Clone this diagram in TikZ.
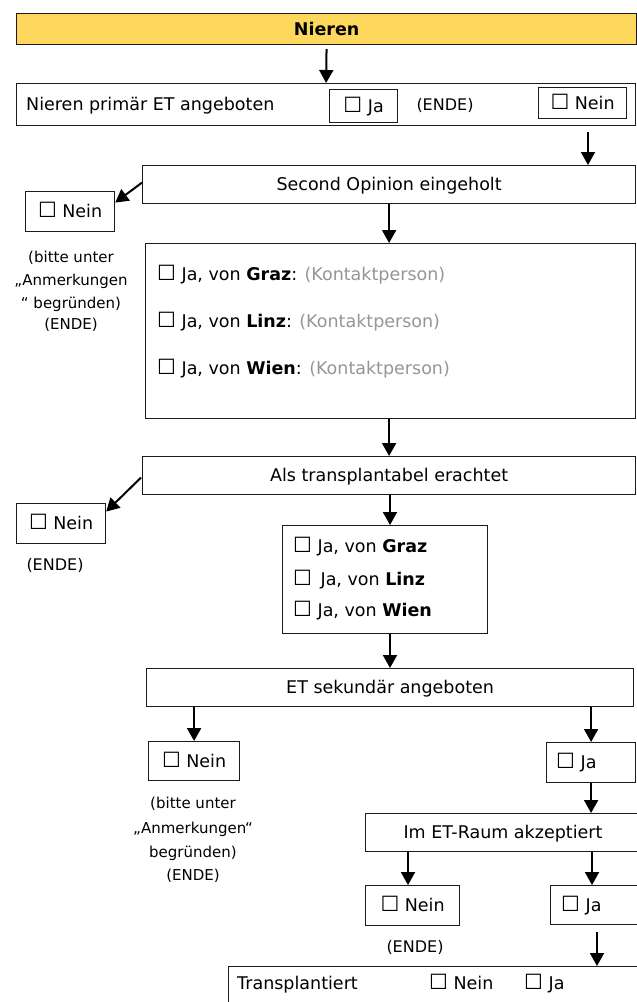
\documentclass[tikz,border=0pt]{standalone}
\usepackage{fontspec}
\setmainfont{DejaVu Sans}
\usetikzlibrary{arrows.meta}
\definecolor{hdr}{HTML}{FDD85C}
\definecolor{hint}{HTML}{959595}
\definecolor{edge}{HTML}{1A1A1A}
% ballot box, set a little larger than the running text
\newcommand{\kbox}{{\fontsize{21}{21}\selectfont ☐}}

\begin{document}
\begin{tikzpicture}[x=1pt,y=-1pt,
  font=\fontsize{17.5}{21}\selectfont,
  box/.style={draw=edge, line width=1.2pt, anchor=north west, inner sep=0pt,
              text height=12.5pt, text depth=0pt},
  txt/.style={inner sep=0pt, text height=12.5pt, text depth=0pt},
  ende/.style={inner sep=0pt, text height=11.5pt, text depth=0pt,
               font=\fontsize{16}{19}\selectfont},
  note/.style={inner sep=0pt, text height=11pt, text depth=0pt,
               font=\fontsize{15}{18}\selectfont},
  arr/.style={line width=2pt, -{Triangle[length=13pt,width=14pt]}},
]
\useasboundingbox (0,0) rectangle (637,1002);
\clip (0,0) rectangle (637,1002);

% x positions of the vertical connectors
\coordinate (x588) at (588,0);
\coordinate (x390) at (390,0);
\coordinate (x408) at (408,0);
\coordinate (x592) at (592,0);
\coordinate (x597) at (597,0);

% title bar
\node[box, fill=hdr, minimum width=620pt, minimum height=31pt,
      font=\bfseries\fontsize{17.5}{21}\selectfont] (head) at (16,13) {Nieren};

% primary offer
\node[box, minimum width=619pt, minimum height=42pt] (prim) at (16,83) {};
\node[txt, anchor=west] (primtxt) at ([xshift=10pt]prim.west) {Nieren primär ET angeboten};
\node[box, minimum width=68pt, minimum height=33pt] (primja) at (329,89) {\kbox{} Ja};
\node[ende] (primende) at (445,105) {(ENDE)};
\node[box, minimum width=88pt, minimum height=31pt] (primnein) at (538,87) {\kbox{} Nein};

% second opinion
\node[box, minimum width=493pt, minimum height=38pt] (so) at (142,165) {Second Opinion eingeholt};
\node[box, minimum width=89pt, minimum height=40pt] (neinA) at (25,191) {\kbox{} Nein};
\node[note] (noteA1) at (71,257) {(bitte unter};
\node[note] (noteA2) at (71,280) {„Anmerkungen};
\node[note] (noteA3) at (71,303) {“ begründen)};
\node[note] (noteA4) at (71,324) {(ENDE)};

\node[box, minimum width=490pt, minimum height=175pt] (big) at (145,243) {};
\node[txt, anchor=west] (bigG) at (157,274) {\kbox{} Ja, von \textbf{Graz}: \textcolor{hint}{(Kontaktperson)}};
\node[txt, anchor=west] (bigL) at (157,321) {\kbox{} Ja, von \textbf{Linz}: \textcolor{hint}{(Kontaktperson)}};
\node[txt, anchor=west] (bigW) at (157,368) {\kbox{} Ja, von \textbf{Wien}: \textcolor{hint}{(Kontaktperson)}};

% transplantability
\node[box, minimum width=493pt, minimum height=38pt] (als) at (142,456) {Als transplantabel erachtet};
\node[box, minimum width=89pt, minimum height=40pt] (neinB) at (16,503) {\kbox{} Nein};
\node[ende] (endeB) at (55,565) {(ENDE)};

\node[box, minimum width=205pt, minimum height=108pt] (small) at (282,525) {};
\node[txt, anchor=west] (smG) at (293,546) {\kbox{} Ja, von \textbf{Graz}};
\node[txt, anchor=west] (smL) at (293,579) {\kbox\hspace{3pt} Ja, von \textbf{Linz}};
\node[txt, anchor=west] (smW) at (293,610) {\kbox{} Ja, von \textbf{Wien}};

% secondary offer
\node[box, minimum width=487pt, minimum height=38pt] (etsek) at (146,668) {ET sekundär angeboten};
\node[box, minimum width=91pt, minimum height=39pt] (neinC) at (148,741) {\kbox{} Nein};
\node[note] (noteC1) at (193,803) {(bitte unter};
\node[note] (noteC2) at (193,828) {„Anmerkungen“};
\node[note] (noteC3) at (193,852) {begründen)};
\node[note] (noteC4) at (193,875) {(ENDE)};

\node[box, minimum width=89pt, minimum height=40pt] (jaC) at (546,742) {};
\node[txt, anchor=west] (jaCt) at ([xshift=10pt]jaC.west) {\kbox{} Ja};

% acceptance in the ET room
\node[box, minimum width=290pt, minimum height=38pt] (imet) at (365,813) {};
\node[txt] (imett) at (503,832) {Im ET-Raum akzeptiert};
\node[box, minimum width=94pt, minimum height=40pt] (neinD) at (365,885) {\kbox{} Nein};
\node[ende] (endeD) at (415,947) {(ENDE)};
\node[box, minimum width=95pt, minimum height=39pt] (jaD) at (550,885) {};
\node[txt, anchor=west] (jaDt) at ([xshift=11pt]jaD.west) {\kbox{} Ja};

% transplanted
\node[box, minimum width=420pt, minimum height=50pt] (trans) at (228,966) {};
\node[txt, anchor=west] (transt) at (237,983) {Transplantiert};
\node[txt, anchor=west] (transn) at (429,983) {\kbox{} Nein};
\node[txt, anchor=west] (transj) at (524,983) {\kbox{} Ja};

% connectors
\draw[arr, shorten <=4pt] (head.south) -- (prim.north);
\draw[arr, shorten <=6pt] (prim.south -| x588) -- (so.north -| x588);
\draw[arr] ([yshift=2pt]so.west) -- ([yshift=9pt]neinA.east);
\draw[arr] (so.south) -- (so.south |- big.north);
\draw[arr] (big.south -| so.south) -- (als.north -| so.south);
\draw[arr] ([xshift=-1pt,yshift=-2pt]als.west) -- ([yshift=12pt]neinB.east);
\draw[arr] (als.south -| x390) -- (small.north -| x390);
\draw[arr] (small.south -| x390) -- (etsek.north -| x390);
\draw[arr] (etsek.south -| neinC.north) -- (neinC.north);
\draw[arr] (etsek.south -| jaC.north) -- (jaC.north);
\draw[arr] (jaC.south) -- (jaC.south |- imet.north);
\draw[arr] (imet.south -| x408) -- (neinD.north -| x408);
\draw[arr] (imet.south -| x592) -- (jaD.north -| x592);
\draw[arr, shorten <=7pt] (jaD.south -| x597) -- (trans.north -| x597);
\end{tikzpicture}
\end{document}
